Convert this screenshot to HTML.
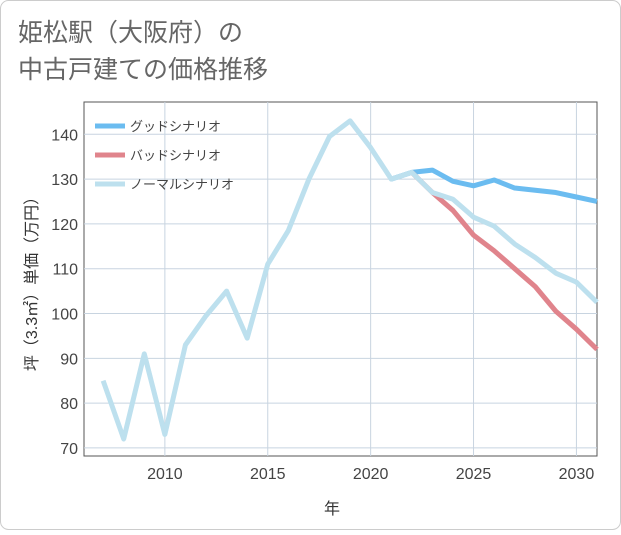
<!DOCTYPE html>
<html><head><meta charset="utf-8"><style>
body{margin:0;background:#fff;font-family:"Liberation Sans","Noto Sans CJK JP",sans-serif;}
#wrap{position:relative;width:621px;height:530px;}
</style></head><body>
<div id="wrap">
<svg id="chart" width="621" height="530">
<rect x="0.5" y="0.5" width="620" height="529" rx="8" fill="#fff" stroke="#ccc"/>
<text x="18" y="41" font-size="25" fill="#666">姫松駅（大阪府）の</text>
<text x="18" y="78" font-size="25" fill="#666">中古戸建ての価格推移</text>
<g id="grid"></g>
<g id="series"></g>
<g id="legend"></g>
<text x="332" y="514" font-size="16" fill="#333" text-anchor="middle">年</text>
<text transform="translate(37,280) rotate(-90)" font-size="16" fill="#333" text-anchor="middle">坪（3.3㎡）単価（万円）</text>
</svg>
</div>
<script>
const years=[2007,2008,2009,2010,2011,2012,2013,2014,2015,2016,2017,2018,2019,2020,2021,2022,2023,2024,2025,2026,2027,2028,2029,2030,2031];
const normalValues=[85,72,91,73,93,99.5,105,94.5,111,118.5,130,139.5,143,137,130,131.5,127,125.5,121.5,119.5,115.5,112.5,109,107,102.5];
const goodYears=[2021,2022,2023,2024,2025,2026,2027,2028,2029,2030,2031];
const goodValues=[130,131.5,132,129.5,128.5,129.8,128,127.5,127,126,125];
const badYears=[2022,2023,2024,2025,2026,2027,2028,2029,2030,2031];
const badValues=[131.5,127,123,117.5,114,110,106,100.5,96.5,92];
const xTicks=[2010,2015,2020,2025,2030];
const yTicks=[70,80,90,100,110,120,130,140];
const NS='http://www.w3.org/2000/svg';
const L=84,R=597,T=102,B=456;
const x0=2006.07,x1=2031.0,y0=68.2,y1=147.2;
const sx=v=>L+(v-x0)/(x1-x0)*(R-L);
const sy=v=>B-(v-y0)/(y1-y0)*(B-T);
function mk(tag,attrs,parent){const e=document.createElementNS(NS,tag);for(const k in attrs)e.setAttribute(k,attrs[k]);parent.appendChild(e);return e;}
const grid=document.getElementById('grid');
const bg=mk('rect',{x:L,y:T,width:R-L,height:B-T,fill:'#fff',stroke:'#555','stroke-width':1},grid);


yTicks.forEach(v=>{
 const l=mk('line',{x1:L,x2:R,y1:sy(v),y2:sy(v),stroke:'#c8d4e0'},grid);
 
 
 const t=mk('text',{x:L-6,y:sy(v)+6,'font-size':16,fill:'#444','text-anchor':'end'},grid);
 t.textContent=v;
 
 
});
xTicks.forEach(v=>{
 const l=mk('line',{y1:T,y2:B,x1:sx(v),x2:sx(v),stroke:'#c8d4e0'},grid);
 
 
 const t=mk('text',{x:sx(v),y:B+23,'font-size':16,fill:'#444','text-anchor':'middle'},grid);
 t.textContent=v;
 
 
});
const ser=document.getElementById('series');
function line(xs,ys,color,name){
 const p=mk('polyline',{points:xs.map((x,i)=>sx(x)+','+sy(ys[i])).join(' '),fill:'none',stroke:color,'stroke-width':5,'stroke-linejoin':'round'},ser);
 
 
}
line(goodYears,goodValues,'#6bbcf0','good-scenario-line');
line(badYears,badValues,'#e0848c','bad-scenario-line');
line(years,normalValues,'#bde0ee','normal-scenario-line');
const lg=document.getElementById('legend');
[['グッドシナリオ','#6bbcf0','legend-good'],['バッドシナリオ','#e0848c','legend-bad'],['ノーマルシナリオ','#bde0ee','legend-normal']].forEach((d,i)=>{
 const y=126+i*29;
 const g=mk('g',{},lg);
 
 
 mk('line',{x1:95,x2:125,y1:y,y2:y,stroke:d[1],'stroke-width':5},g);
 const t=mk('text',{x:130,y:y+5,'font-size':13,fill:'#444'},g);
 t.textContent=d[0];
});
</script>
</body></html>
